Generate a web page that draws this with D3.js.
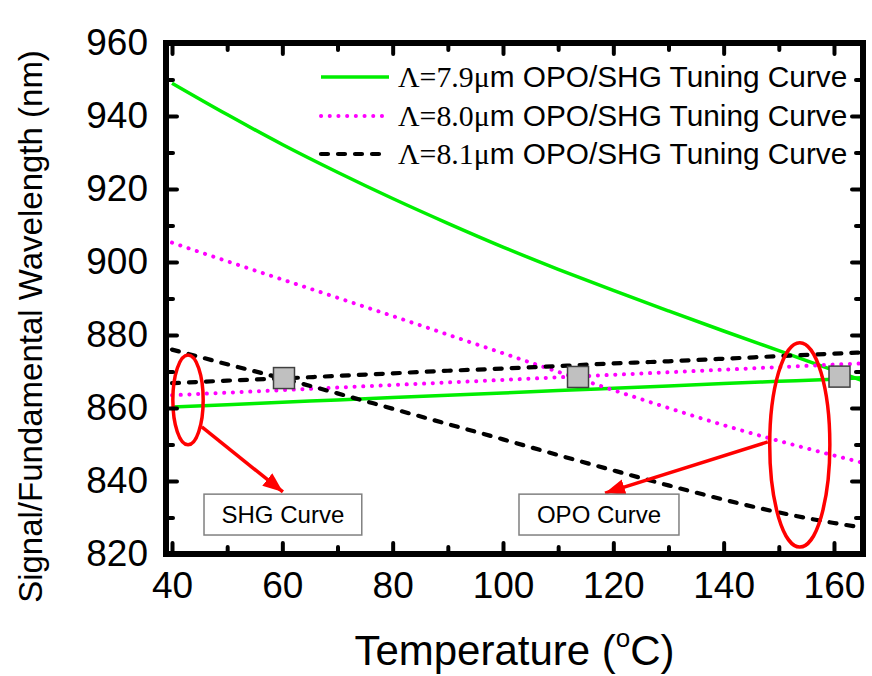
<!DOCTYPE html>
<html><head><meta charset="utf-8">
<script src="https://cdn.jsdelivr.net/npm/d3@7/dist/d3.min.js"></script>
<style>
body{margin:0;background:#fff}
text{font-family:"Liberation Sans",Arial,sans-serif;fill:#000}
</style>
</head><body>
<svg id="c" width="872" height="676"></svg>
<script>
// ---- data ----
const temps   = [40,50,60,70,80,90,100,110,120,130,140,150,160,165];
const opo79   = [949.0,940.4,932.2,924.6,917.4,910.6,904.1,898.0,892.2,886.6,881.1,875.7,870.3,867.6];
const shg79   = [860.3,860.9,861.6,862.2,862.9,863.5,864.1,864.8,865.4,866.0,866.7,867.3,867.9,868.3];
const opo80   = [905.3,900.2,895.2,890.2,885.2,880.1,875.0,869.9,864.9,860.0,855.3,851.0,847.0,845.1];
const shg80   = [863.5,864.2,864.9,865.6,866.3,867.0,867.7,868.4,869.1,869.8,870.5,871.2,871.9,872.2];
const opo81   = [876.0,872.0,868.1,864.0,859.8,855.6,851.4,847.1,842.9,838.8,834.9,831.4,828.5,827.3];
const shg81   = [866.8,867.5,868.1,868.8,869.5,870.2,870.8,871.5,872.2,872.8,873.5,874.2,874.9,875.2];
const squareT = [60.3,113.6,161.0];
const squareV = [868.2,868.5,868.6];
const xTicks  = [40,60,80,100,120,140,160];
const xMinor  = [50,70,90,110,130,150];
const yTicks  = [820,840,860,880,900,920,940,960];
const yMinor  = [830,850,870,890,910,930,950];
const legendPeriods = ["7.9","8.0","8.1"];
const legendSuffix  = "m OPO/SHG Tuning Curve";
const xTitle = "Temperature";
const yTitle = "Signal/Fundamental Wavelength (nm)";
const boxLabels = ["SHG Curve","OPO Curve"];

// ---- layout ----
const L=166, R=863, T=43, B=554;
const svg = d3.select("#c");
const x = d3.scaleLinear().domain([38.91,165.26]).range([L,R]);
const y = d3.scaleLinear().domain([820,960]).range([B,T]);

svg.append("defs").append("clipPath").attr("id","clip")
  .append("rect").attr("x",L).attr("y",T).attr("width",R-L).attr("height",B-T);
const marker = svg.select("defs").append("marker").attr("id","ah")
  .attr("markerUnits","userSpaceOnUse").attr("markerWidth",24).attr("markerHeight",20)
  .attr("refX",20).attr("refY",8).attr("orient","auto");
marker.append("path").attr("d","M0,0 L20,8 L0,16 Z").attr("fill","#ff0000");

const plot = svg.append("g").attr("clip-path","url(#clip)");
const line = d3.line().curve(d3.curveMonotoneX).x((d,i)=>x(temps[i])).y(d=>y(d));

const styles = [
  {c:"#00ee00", w:3.5, dash:null, cap:"butt"},
  {c:"#ff00ff", w:4, dash:"0.1 8.6", cap:"round"},
  {c:"#000000", w:4.2, dash:"7 10", cap:"round"}
];
const series = [[opo79,shg79,0],[opo80,shg80,1],[opo81,shg81,2]];
series.forEach(([o,s,k])=>{
  [o,s].forEach(arr=>{
    plot.append("path").datum(arr).attr("d",line).attr("fill","none")
      .attr("stroke",styles[k].c).attr("stroke-width",styles[k].w)
      .attr("stroke-dasharray",styles[k].dash).attr("stroke-linecap",styles[k].cap);
  });
});

// gray squares
plot.selectAll("rect.sq").data(squareT).enter().append("rect").attr("class","sq")
  .attr("x",(d)=>x(d)-10.5).attr("y",(d,i)=>y(squareV[i])-10.5)
  .attr("width",21).attr("height",21).attr("fill","#c0c0c0")
  .attr("stroke","#404040").attr("stroke-width",1.5);

// annotations (red ellipses + arrows)
const ell = [{t:42.9,v:862.2,rt:2.75,rv:12.3},{t:153.8,v:849.9,rt:5.45,rv:28.0}];
ell.forEach(e=>{
  svg.append("ellipse").attr("cx",x(e.t)).attr("cy",y(e.v))
    .attr("rx",x(e.t+e.rt)-x(e.t)).attr("ry",y(e.v)-y(e.v+e.rv))
    .attr("fill","none").attr("stroke","#ff0000").attr("stroke-width",3.5);
});
const arrows = [{t1:45.4,v1:854.8,t2:60.1,v2:837.0},{t1:148.0,v1:850.7,t2:118.5,v2:836.7}];
arrows.forEach(a=>{
  svg.append("line").attr("x1",x(a.t1)).attr("y1",y(a.v1)).attr("x2",x(a.t2)).attr("y2",y(a.v2))
    .attr("stroke","#ff0000").attr("stroke-width",3.5).attr("marker-end","url(#ah)");
});
const boxes = [{t1:45.8,t2:74.4},{t1:102.9,t2:131.9}];
boxes.forEach((b,i)=>{
  const x1=x(b.t1), x2=x(b.t2), y1=y(836.4), y2=y(825.2);
  svg.append("rect").attr("x",x1).attr("y",y1).attr("width",x2-x1).attr("height",y2-y1)
    .attr("fill","#fff").attr("stroke","#808080").attr("stroke-width",1.5);
  svg.append("text").attr("x",(x1+x2)/2).attr("y",(y1+y2)/2+8.5).attr("text-anchor","middle")
    .attr("font-size",24).text(boxLabels[i]);
});

// axes with inward ticks
function styleAxis(g){
  g.select(".domain").remove();
  g.selectAll(".tick line").attr("stroke","#000").attr("stroke-width",4).attr("stroke-linecap","round");
}
const maj=11, mnr=7;
svg.append("g").attr("transform",`translate(0,${B})`)
  .call(d3.axisBottom(x).tickValues(xTicks).tickSize(-maj).tickPadding(16).tickFormat(d3.format("d")))
  .call(styleAxis).call(g=>g.selectAll("text").attr("font-size",37).attr("font-family","Liberation Sans, Arial").attr("dy","0.75em"));
svg.append("g").attr("transform",`translate(0,${B})`)
  .call(d3.axisBottom(x).tickValues(xMinor).tickSize(-mnr).tickFormat(""))
  .call(styleAxis);
svg.append("g").attr("transform",`translate(0,${T})`)
  .call(d3.axisTop(x).tickValues(xTicks).tickSize(-maj).tickFormat(""))
  .call(styleAxis);
svg.append("g").attr("transform",`translate(0,${T})`)
  .call(d3.axisTop(x).tickValues(xMinor).tickSize(-mnr).tickFormat(""))
  .call(styleAxis);
svg.append("g").attr("transform",`translate(${L},0)`)
  .call(d3.axisLeft(y).tickValues(yTicks).tickSize(-maj).tickPadding(18).tickFormat(d3.format("d")))
  .call(styleAxis).call(g=>g.selectAll("text").attr("font-size",37).attr("font-family","Liberation Sans, Arial"));
svg.append("g").attr("transform",`translate(${L},0)`)
  .call(d3.axisLeft(y).tickValues(yMinor).tickSize(-mnr).tickFormat(""))
  .call(styleAxis);
svg.append("g").attr("transform",`translate(${R},0)`)
  .call(d3.axisRight(y).tickValues(yTicks).tickSize(-maj).tickFormat(""))
  .call(styleAxis);
svg.append("g").attr("transform",`translate(${R},0)`)
  .call(d3.axisRight(y).tickValues(yMinor).tickSize(-mnr).tickFormat(""))
  .call(styleAxis);

// frame
svg.append("rect").attr("x",L).attr("y",T).attr("width",R-L).attr("height",B-T)
  .attr("fill","none").attr("stroke","#000").attr("stroke-width",6);

// axis titles
const xt = svg.append("text").attr("x",(L+R)/2).attr("y",665).attr("text-anchor","middle").attr("font-size",42);
xt.append("tspan").text(xTitle+" (");
xt.append("tspan").attr("font-size",26).attr("dy",-18).text("o");
xt.append("tspan").attr("dy",18).text("C)");
svg.append("text").attr("transform",`translate(42,${(T+B)/2+28}) rotate(-90)`)
  .attr("text-anchor","middle").attr("font-size",33).text(yTitle);

// legend
const legY = [77,116,154];
legendPeriods.forEach((p,i)=>{
  svg.append("line").attr("x1",321).attr("x2",389).attr("y1",legY[i]).attr("y2",legY[i])
    .attr("stroke",styles[i].c).attr("stroke-width",styles[i].w)
    .attr("stroke-dasharray",styles[i].dash).attr("stroke-linecap",styles[i].cap);
  const t = svg.append("text").attr("x",398).attr("y",legY[i]+10).attr("font-size",29.8);
  t.append("tspan").attr("font-family","Liberation Serif, Times New Roman, serif").text("\u039B="+p+"\u03BC");
  t.append("tspan").text(legendSuffix);
});
</script>
</body></html>
